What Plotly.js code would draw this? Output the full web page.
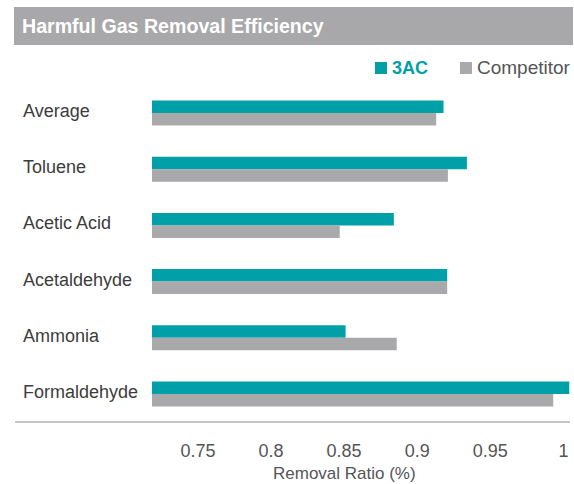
<!DOCTYPE html>
<html>
<head>
<meta charset="utf-8">
<script src="https://cdn.plot.ly/plotly-3.0.1.min.js"></script>
<style>html,body{margin:0;padding:0;background:#fff;}#chart{width:574px;height:484px;}</style>
</head>
<body>
<div id="chart"></div>
<script>
var chartTitle = 'Harmful Gas Removal Efficiency';
var categories = ['Average', 'Toluene', 'Acetic Acid', 'Acetaldehyde', 'Ammonia', 'Formaldehyde'];
var seriesNames = ['3AC', 'Competitor'];
var values3AC = [0.918, 0.934, 0.884, 0.9205, 0.851, 1.004];
var valuesCompetitor = [0.913, 0.921, 0.847, 0.9205, 0.886, 0.993];
var tickValues = [0.75, 0.8, 0.85, 0.9, 0.95, 1];
var tickLabels = ['0.75', '0.8', '0.85', '0.9', '0.95', '1'];
var xTitle = 'Removal Ratio (%)';
var colors = ['#00A0A8', '#A9A9AB'];

var FONT = '"Liberation Sans", Arial, Helvetica, sans-serif';
var series = [values3AC, valuesCompetitor];

var traces = series.map(function (vals, i) {
  return {
    type: 'bar', orientation: 'h', name: seriesNames[i],
    y: categories, x: vals,
    marker: {color: colors[i], line: {width: 0}},
    hoverinfo: 'x+y'
  };
});

var annotations = categories.map(function (c) {
  return {
    xref: 'paper', yref: 'y', x: (21 - 152) / 418, y: c, xanchor: 'left', yanchor: 'middle',
    text: c, showarrow: false, yshift: 2,
    font: {family: FONT, size: 18, color: '#3c3c3c'}
  };
});
annotations.push({
  xref: 'paper', yref: 'paper', x: 0.4617, y: -0.153, xanchor: 'center', yanchor: 'middle',
  text: xTitle, showarrow: false, font: {family: FONT, size: 17, color: '#555555'}
});
// legend labels
annotations.push({
  xref: 'paper', yref: 'paper', x: (390 - 152) / 418, y: (422 - 68) / 337, xanchor: 'left', yanchor: 'middle',
  text: '<b>' + seriesNames[0] + '</b>', showarrow: false, font: {family: FONT, size: 18, color: colors[0]}
});
annotations.push({
  xref: 'paper', yref: 'paper', x: (475 - 152) / 418, y: (422 - 68) / 337, xanchor: 'left', yanchor: 'middle',
  text: seriesNames[1], showarrow: false, font: {family: FONT, size: 19, color: '#555555'}
});

var shapes = [
  // title bar
  {type: 'rect', xref: 'paper', yref: 'paper', xsizemode: 'pixel', ysizemode: 'pixel',
   xanchor: 0, yanchor: 1, x0: -138, x1: 421, y0: 40, y1: 78,
   fillcolor: '#A8A8AA', line: {width: 0}, layer: 'below'},
  // axis line
  {type: 'line', xref: 'paper', yref: 'paper', xsizemode: 'pixel', xanchor: 0,
   x0: -137, x1: 418, y0: 0, y1: 0, line: {color: '#B0B0B0', width: 1.5}},
  // legend squares
  {type: 'rect', xref: 'paper', yref: 'paper', xsizemode: 'pixel', ysizemode: 'pixel',
   xanchor: 0, yanchor: 1, x0: 375 - 152, x1: 387 - 152, y0: 85 - 74, y1: 85 - 62,
   fillcolor: colors[0], line: {width: 0}},
  {type: 'rect', xref: 'paper', yref: 'paper', xsizemode: 'pixel', ysizemode: 'pixel',
   xanchor: 0, yanchor: 1, x0: 460 - 152, x1: 472 - 152, y0: 85 - 74, y1: 85 - 62,
   fillcolor: colors[1], line: {width: 0}}
];

var layout = {
  width: 574, height: 484,
  margin: {l: 152, r: 4, t: 85, b: 62, pad: 0},
  paper_bgcolor: '#ffffff', plot_bgcolor: '#ffffff',
  title: {text: '<b>' + chartTitle + '</b>', xref: 'container', yref: 'container',
          x: 22 / 574, xanchor: 'left', y: 1 - 26 / 484, yanchor: 'middle',
          font: {family: FONT, size: 19.6, color: '#ffffff'}},
  showlegend: false,
  barmode: 'group', bargap: 0.555, bargroupgap: 0,
  xaxis: {range: [0.7186, 1.0045], tickvals: tickValues, ticktext: tickLabels,
          showgrid: false, zeroline: false, showline: false,
          ticks: 'outside', ticklen: 12, tickcolor: 'rgba(0,0,0,0)',
          tickfont: {family: FONT, size: 18, color: '#555555'}, fixedrange: true},
  yaxis: {autorange: 'reversed', showticklabels: false, showgrid: false, zeroline: false,
          showline: false, ticks: '', fixedrange: true},
  shapes: shapes,
  annotations: annotations
};

Plotly.newPlot('chart', traces, layout, {displayModeBar: false, staticPlot: true});
</script>
</body>
</html>
